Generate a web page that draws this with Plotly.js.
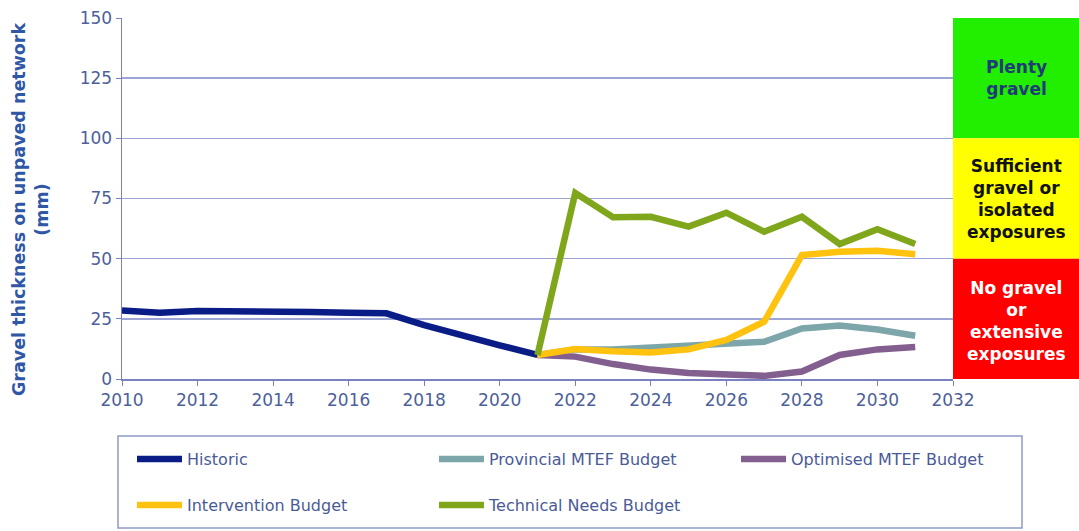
<!DOCTYPE html>
<html>
<head>
<meta charset="utf-8">
<script src="https://cdn.plot.ly/plotly-3.0.1.min.js"></script>
<style>html,body{margin:0;padding:0;background:#fff;}#chart{width:1079px;height:531px;}</style>
</head>
<body>
<div id="chart"></div>
<script>
// Data
const yearsHistoric = [2010, 2011, 2012, 2013, 2014, 2015, 2016, 2017, 2018, 2019, 2020, 2021];
const historic = [28.5, 27.5, 28.3, 28.3, 28, 27.8, 27.5, 27.3, 22.4, 18, 14, 10];

const yearsForecast = [2021, 2022, 2023, 2024, 2025, 2026, 2027, 2028, 2029, 2030, 2031];
const provincialMTEF = [10, 12.3, 12.3, 13.2, 14, 14.4, 15.5, 21, 22.2, 20.6, 18];
const optimisedMTEF = [10, 9.3, 6.2, 3.9, 2.5, 2.1, 1.3, 3.1, 10, 12.3, 13.3];
const intervention = [10, 12.5, 11.5, 11, 12.3, 16.2, 23.8, 51.5, 52.9, 53.3, 51.8];
const technicalNeeds = [10, 77.3, 67.2, 67.4, 63.3, 69.1, 61.2, 67.4, 56.1, 62.2, 56.1];

const seriesNames = ["Historic", "Provincial MTEF Budget", "Optimised MTEF Budget", "Intervention Budget", "Technical Needs Budget"];
const yTitle = "Gravel thickness on unpaved network<br>(mm)";

const bands = [
  {lo: 100, hi: 150, color: "#22ee00", text: "Plenty<br>gravel", textColor: "#1f3b7a", mid: 125},
  {lo: 50, hi: 100, color: "#ffff00", text: "Sufficient<br>gravel or<br>isolated<br>exposures", textColor: "#111111", mid: 75},
  {lo: 0, hi: 50, color: "#ff0000", text: "No gravel<br>or<br>extensive<br>exposures", textColor: "#ffffff", mid: 24}
];

const W = 1079, H = 531;
const mL = 122, mR = 0, mT = 18, mB = 152;
const plotW = W - mL - mR, plotH = H - mT - mB;
const xDomainEnd = (953 - mL) / plotW;
const px = x => (x - mL) / plotW;
const py = y => (H - mB - y) / plotH;

const FONT = "DejaVu Sans, sans-serif";
const lw = 6.5;

const traces = [
  {x: yearsHistoric, y: historic, name: seriesNames[0], mode: "lines", line: {color: "#0a1c86", width: lw}, legend: "legend"},
  {x: yearsForecast, y: provincialMTEF, name: seriesNames[1], mode: "lines", line: {color: "#7ca6aa", width: lw}, legend: "legend"},
  {x: yearsForecast, y: optimisedMTEF, name: seriesNames[2], mode: "lines", line: {color: "#825f8e", width: lw}, legend: "legend"},
  {x: yearsForecast, y: intervention, name: seriesNames[3], mode: "lines", line: {color: "#ffc20e", width: lw}, legend: "legend2"},
  {x: yearsForecast, y: technicalNeeds, name: seriesNames[4], mode: "lines", line: {color: "#80a61c", width: lw}, legend: "legend2"}
];

const shapes = bands.map(b => ({
  type: "rect", xref: "paper", yref: "y", x0: xDomainEnd, x1: 1, y0: b.lo, y1: b.hi,
  fillcolor: b.color, line: {width: 0}, layer: "below"
}));
shapes.push({
  type: "rect", xref: "paper", yref: "paper",
  x0: px(118), x1: px(1022), y0: py(528), y1: py(436),
  line: {color: "#8f9ac8", width: 1.5}, fillcolor: "rgba(0,0,0,0)"
});

const annotations = bands.map(b => ({
  xref: "paper", yref: "y", x: px(1016), y: b.mid, xanchor: "center", yanchor: "middle",
  text: "<b>" + b.text + "</b>",
  showarrow: false, font: {family: FONT, size: 17, color: b.textColor}, align: "center"
}));
annotations.push({
  xref: "paper", yref: "paper", x: px(30), y: py(210), xanchor: "center", yanchor: "middle",
  text: "<b>" + yTitle + "</b>", textangle: -90, showarrow: false, align: "center",
  font: {family: FONT, size: 17.5, color: "#2f57a6"}
});

const legendCommon = {
  orientation: "h", xref: "paper", yref: "paper", xanchor: "left", yanchor: "middle",
  font: {family: FONT, size: 16, color: "#4a5a96"}, bgcolor: "rgba(0,0,0,0)",
  entrywidth: 242, entrywidthmode: "pixels", itemwidth: 45, tracegroupgap: 0
};

const layout = {
  width: W, height: H,
  margin: {l: mL, r: mR, t: mT, b: mB},
  paper_bgcolor: "#ffffff", plot_bgcolor: "rgba(0,0,0,0)",
  showlegend: true,
  legend: Object.assign({}, legendCommon, {x: px(132), y: py(459)}),
  legend2: Object.assign({}, legendCommon, {x: px(132), y: py(505)}),
  xaxis: {
    domain: [0, xDomainEnd], range: [2010, 2032], dtick: 2, tick0: 2010,
    showgrid: false, zeroline: false, showline: true, linecolor: "#7b80c0", linewidth: 1.5,
    ticks: "outside", ticklen: 5, tickcolor: "#7b80c0",
    tickfont: {family: FONT, size: 17, color: "#4e5f9a"}
  },
  yaxis: {
    range: [0, 150], dtick: 25, tick0: 0,
    showgrid: true, gridcolor: "#9da5d6", gridwidth: 1.5, zeroline: false,
    showline: true, linecolor: "#7b80c0", linewidth: 1.5,
    ticks: "outside", ticklen: 5, tickcolor: "#7b80c0",
    tickfont: {family: FONT, size: 17, color: "#4e5f9a"}
  },
  shapes: shapes,
  annotations: annotations
};

Plotly.newPlot("chart", traces, layout, {displayModeBar: false, staticPlot: true});
</script>
</body>
</html>
